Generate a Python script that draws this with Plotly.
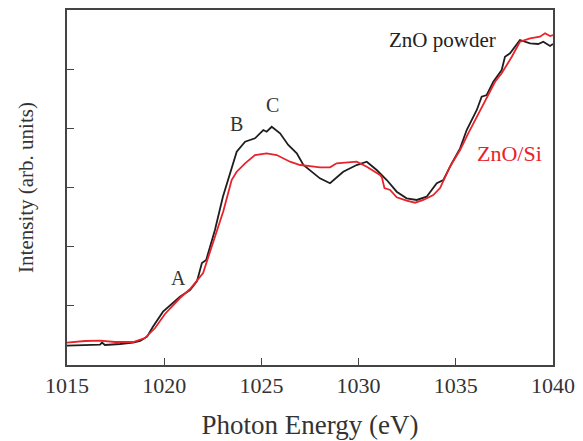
import plotly.graph_objects as go

# ZnO powder (black)
powder_x = [1015.0, 1015.93, 1016.70, 1016.80, 1016.95, 1017.73, 1018.40, 1018.76, 1019.12, 1019.42,
            1019.94, 1020.81, 1021.33, 1021.69, 1021.94, 1022.16, 1022.61, 1023.02, 1023.38, 1023.73,
            1024.16, 1024.67, 1025.10, 1025.27, 1025.53, 1025.96, 1026.38, 1026.82, 1027.16, 1027.67,
            1028.01, 1028.53, 1029.21, 1029.90, 1030.42, 1030.93, 1031.45, 1031.96, 1032.47, 1032.99,
            1033.50, 1034.02, 1034.36, 1034.79, 1035.22, 1035.56, 1036.08, 1036.33, 1036.59, 1036.93,
            1037.36, 1037.53, 1037.79, 1038.30, 1038.82, 1039.24, 1039.50, 1039.85, 1040.0]
powder_y = [0.326, 0.338, 0.346, 0.380, 0.338, 0.355, 0.377, 0.406, 0.478, 0.647,
            0.901, 1.154, 1.268, 1.420, 1.724, 1.775, 2.282, 2.844, 3.245, 3.605,
            3.774, 3.831, 3.972, 3.943, 4.027, 3.916, 3.718, 3.578, 3.380, 3.240,
            3.155, 3.071, 3.267, 3.380, 3.436, 3.296, 3.127, 2.929, 2.817, 2.789,
            2.844, 3.071, 3.127, 3.409, 3.662, 3.972, 4.310, 4.534, 4.563, 4.788,
            4.986, 5.210, 5.268, 5.493, 5.437, 5.425, 5.464, 5.391, 5.425]

# ZnO/Si (red)
film_x = [1015.0, 1015.93, 1016.70, 1017.47, 1018.40, 1019.01, 1019.53, 1020.04, 1020.81, 1021.33,
          1022.00, 1022.51, 1023.04, 1023.47, 1023.73, 1024.16, 1024.67, 1025.27, 1025.79, 1026.47,
          1026.99, 1027.50, 1028.01, 1028.53, 1028.87, 1029.90, 1030.42, 1031.10, 1031.20, 1031.33,
          1031.62, 1031.96, 1032.47, 1032.90, 1033.33, 1033.84, 1034.19, 1034.70, 1035.22, 1035.64,
          1036.08, 1036.50, 1037.02, 1037.36, 1037.88, 1038.30, 1038.82, 1039.33, 1039.59, 1039.85, 1040.0]
film_y = [0.377, 0.406, 0.411, 0.389, 0.389, 0.456, 0.625, 0.862, 1.132, 1.284,
          1.555, 2.062, 2.600, 3.127, 3.267, 3.409, 3.549, 3.578, 3.549, 3.436,
          3.380, 3.363, 3.341, 3.341, 3.409, 3.436, 3.351, 3.211, 3.170, 2.990,
          2.958, 2.834, 2.777, 2.743, 2.789, 2.873, 2.991, 3.351, 3.634, 3.916,
          4.196, 4.479, 4.788, 4.930, 5.210, 5.464, 5.521, 5.548, 5.606, 5.560, 5.577]

x_ticks = [1015, 1020, 1025, 1030, 1035, 1040]
y_ticks = [1, 2, 3, 4, 5]

labels = ["A", "B", "C"]
label_x = [1020.71, 1023.74, 1025.55]
label_y = [1.47, 4.07, 4.39]

FONT = "Liberation Serif, Times New Roman, serif"

fig = go.Figure()
fig.add_trace(go.Scatter(x=powder_x, y=powder_y, mode="lines",
                         line=dict(color="#1e1e1e", width=1.8), name="ZnO powder"))
fig.add_trace(go.Scatter(x=film_x, y=film_y, mode="lines",
                         line=dict(color="#e8232b", width=1.8), name="ZnO/Si"))

for t, xx, yy in zip(labels, label_x, label_y):
    fig.add_annotation(x=xx, y=yy, text=t, showarrow=False,
                       font=dict(family=FONT, size=20, color="#333333"))

fig.add_annotation(x=1034.29, y=5.49, text="ZnO powder", showarrow=False,
                   font=dict(family=FONT, size=21, color="#222222"))
fig.add_annotation(x=1037.76, y=3.58, text="ZnO/Si", showarrow=False,
                   font=dict(family=FONT, size=22, color="#e8232b"))

fig.update_layout(
    width=583, height=441,
    margin=dict(l=67, r=30, t=10, b=76),
    paper_bgcolor="white", plot_bgcolor="white",
    showlegend=False,
    font=dict(family=FONT, color="#333333"),
)
fig.update_xaxes(
    range=[1015, 1040], tickvals=x_ticks, ticktext=[str(v) for v in x_ticks],
    ticks="inside", ticklen=7, tickwidth=1.3, tickcolor="#444444",
    showline=True, linecolor="#444444", linewidth=1.5, mirror=True,
    showgrid=False, zeroline=False, automargin=False,
    tickfont=dict(family=FONT, size=22, color="#333333"),
    title=dict(text="Photon Energy (eV)", font=dict(family=FONT, size=27, color="#333333"), standoff=18),
)
fig.update_yaxes(
    range=[0, 6], tickvals=y_ticks, showticklabels=False,
    ticks="inside", ticklen=7, tickwidth=1.3, tickcolor="#444444",
    showline=True, linecolor="#444444", linewidth=1.5, mirror=True,
    showgrid=False, zeroline=False, automargin=False,
    title=dict(text="Intensity (arb. units)", font=dict(family=FONT, size=21, color="#333333"), standoff=26),
)

fig.write_html("out.html")
